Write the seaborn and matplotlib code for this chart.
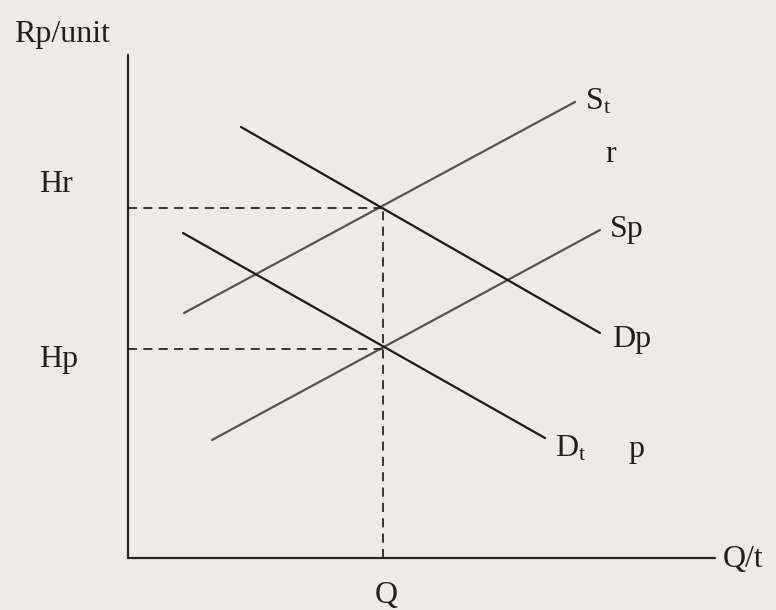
import numpy as np
import pandas as pd
import seaborn as sns
import matplotlib
matplotlib.use("Agg")
import matplotlib.pyplot as plt

# curve end points (quantity, price), origin at axes corner
st_q = [56, 447]
st_p = [245, 456]
sp_q = [84, 472]
sp_p = [118, 328]
dp_q = [113, 472]
dp_p = [431, 225]
dt_q = [55, 417]
dt_p = [325, 120]

# equilibrium values
q_eq = 255
hr = 350
hp = 209

# axis extents
q_max = 587
p_max = 503

sns.set_theme(style="white")
plt.rcParams['font.family'] = ['Liberation Serif', 'DejaVu Serif']
plt.rcParams['mathtext.fontset'] = 'stix'

bg = "#edebe8"
fig = plt.figure(figsize=(7.76, 6.10), dpi=100, facecolor=bg)
ax = fig.add_axes([0, 0, 1, 1])
ax.set_facecolor(bg)

# build one table for the four curves
df = pd.concat([
    pd.DataFrame({"q": st_q, "p": st_p, "curve": "St"}),
    pd.DataFrame({"q": sp_q, "p": sp_p, "curve": "Sp"}),
    pd.DataFrame({"q": dp_q, "p": dp_p, "curve": "Dp"}),
    pd.DataFrame({"q": dt_q, "p": dt_p, "curve": "Dt"}),
])
pal = {"St": "#57524d", "Sp": "#57524d", "Dp": "#1c1a18", "Dt": "#1c1a18"}
sns.lineplot(data=df, x="q", y="p", hue="curve", palette=pal, units="curve",
             estimator=None, sort=False, lw=1.6, legend=False, ax=ax)

# axes drawn as plain lines
ax.plot([0, 0], [0, p_max], color="#2b2622", lw=1.6)
ax.plot([0, q_max], [0, 0], color="#2b2622", lw=1.6)

# dashed guides
dash = dict(color="#2b2622", lw=1.3, ls=(0, (5, 3.5)))
ax.plot([0, q_eq], [hr, hr], **dash)
ax.plot([0, q_eq], [hp, hp], **dash)
ax.plot([q_eq, q_eq], [0, hr], **dash)

fs = 23
tc = "#231f1c"
ax.text(-114, 516, "Rp/unit", fontsize=fs, color=tc, va="baseline")
ax.text(-89, 366, "Hr", fontsize=fs, color=tc, va="baseline")
ax.text(-89, 191, "Hp", fontsize=fs, color=tc, va="baseline")
ax.text(247, -45, "Q", fontsize=fs, color=tc, va="baseline")
ax.text(595, -9, "Q/t", fontsize=fs, color=tc, va="baseline")
ax.text(457, 448, r"S$_\mathregular{t}$", fontsize=fs, color=tc, va="baseline")
ax.text(477, 396, "r", fontsize=fs, color=tc, va="baseline")
ax.text(482, 321, "Sp", fontsize=fs, color=tc, va="baseline")
ax.text(484, 211, "Dp", fontsize=fs, color=tc, va="baseline")
ax.text(427, 101, r"D$_\mathregular{t}$", fontsize=fs, color=tc, va="baseline")
ax.text(500, 101, "p", fontsize=fs, color=tc, va="baseline")

ax.set_xlim(-128, 648)
ax.set_ylim(-52, 558)
ax.set_xlabel("")
ax.set_ylabel("")
ax.set_xticks([])
ax.set_yticks([])
for s in ax.spines.values():
    s.set_visible(False)

fig.savefig("out.png", dpi=100, facecolor=bg)
